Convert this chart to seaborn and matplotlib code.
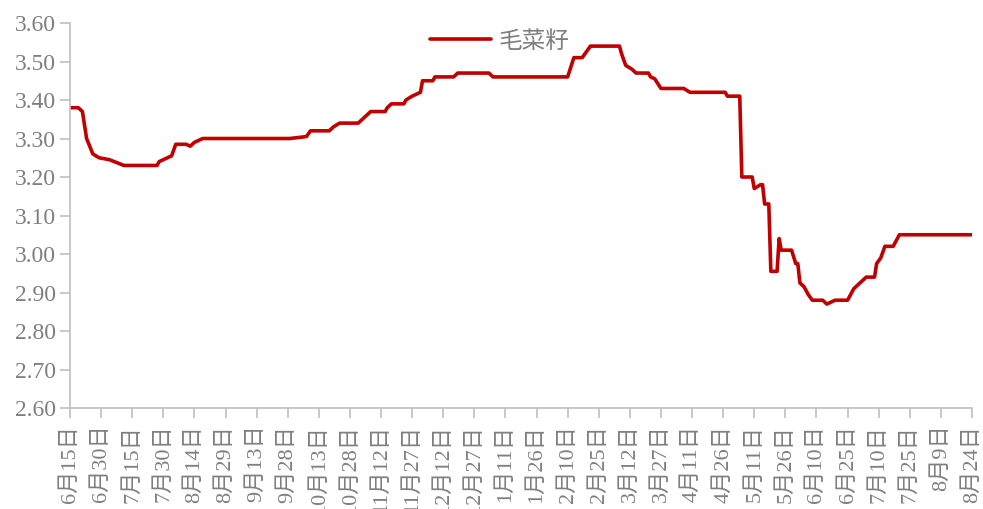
import numpy as np
import pandas as pd
import matplotlib
matplotlib.use("Agg")
import matplotlib.pyplot as plt
import matplotlib.dates as mdates
import seaborn as sns

# 毛菜籽 price (change points)
dates = [
    "2022-06-15", "2022-06-19", "2022-06-21", "2022-06-23", "2022-06-26", "2022-06-29",
    "2022-07-04", "2022-07-11", "2022-07-27", "2022-07-28", "2022-08-01", "2022-08-03",
    "2022-08-05", "2022-08-10", "2022-08-12", "2022-08-14", "2022-08-18", "2022-09-29",
    "2022-10-07", "2022-10-09", "2022-10-18", "2022-10-20", "2022-10-23", "2022-11-01",
    "2022-11-03", "2022-11-07", "2022-11-14", "2022-11-15", "2022-11-17", "2022-11-23",
    "2022-11-24", "2022-11-27", "2022-12-01", "2022-12-02", "2022-12-07", "2022-12-08",
    "2022-12-17", "2022-12-19", "2023-01-03", "2023-01-05", "2023-02-10", "2023-02-13",
    "2023-02-17", "2023-02-21", "2023-03-07", "2023-03-08", "2023-03-10", "2023-03-13",
    "2023-03-15", "2023-03-21", "2023-03-22", "2023-03-24", "2023-03-27", "2023-04-07",
    "2023-04-10", "2023-04-27", "2023-04-28", "2023-05-04", "2023-05-05", "2023-05-10",
    "2023-05-11", "2023-05-14", "2023-05-15", "2023-05-16", "2023-05-18", "2023-05-19",
    "2023-05-22", "2023-05-23", "2023-05-24", "2023-05-29", "2023-05-31", "2023-06-01",
    "2023-06-02", "2023-06-04", "2023-06-06", "2023-06-08", "2023-06-13", "2023-06-15",
    "2023-06-19", "2023-06-25", "2023-06-28", "2023-06-30", "2023-07-02", "2023-07-04",
    "2023-07-08", "2023-07-09", "2023-07-11", "2023-07-13", "2023-07-17", "2023-07-19",
    "2023-07-20", "2023-08-24",
]
prices = [
    3.38, 3.38, 3.37, 3.30, 3.26, 3.25,
    3.245, 3.23, 3.23, 3.24, 3.25, 3.255,
    3.285, 3.285, 3.28, 3.29, 3.30, 3.30,
    3.305, 3.32, 3.32, 3.33, 3.34, 3.34,
    3.35, 3.37, 3.37, 3.38, 3.39, 3.39,
    3.40, 3.41, 3.42, 3.45, 3.45, 3.46,
    3.46, 3.47, 3.47, 3.46, 3.46, 3.51,
    3.51, 3.54, 3.54, 3.52, 3.49, 3.48,
    3.47, 3.47, 3.46, 3.455, 3.43, 3.43,
    3.42, 3.42, 3.41, 3.41, 3.20, 3.20,
    3.17, 3.18, 3.18, 3.13, 3.13, 2.955,
    2.955, 3.04, 3.01, 3.01, 2.975, 2.975,
    2.925, 2.915, 2.895, 2.88, 2.88, 2.87,
    2.88, 2.88, 2.91, 2.92, 2.93, 2.94,
    2.94, 2.975, 2.99, 3.02, 3.02, 3.04,
    3.05, 3.05,
]
series_name = "毛菜籽"
y_ticks = [2.60, 2.70, 2.80, 2.90, 3.00, 3.10, 3.20, 3.30, 3.40, 3.50, 3.60]

df = pd.DataFrame({"date": pd.to_datetime(dates), "price": prices})
tick_dates = pd.date_range("2022-06-15", "2023-08-24", freq="15D")

sns.set_style("white")
plt.rcParams["font.family"] = ["Liberation Serif", "Noto Sans CJK SC", "DejaVu Sans"]

grey = "#7f7f7f"
axis_grey = "#bfbfbf"

fig = plt.figure(figsize=(9.83, 5.09), dpi=100)
ax = fig.add_axes([0.0712, 0.1984, 0.9176, 0.7564])

sns.lineplot(data=df, x="date", y="price", ax=ax, color="#c00000",
             linewidth=2.6, label=series_name)

ax.set_xlim(tick_dates[0], tick_dates[-1])
ax.set_ylim(2.6, 3.6)
ax.set_yticks(y_ticks)
ax.set_yticklabels([f"{v:.2f}" for v in y_ticks])
ax.set_xticks(tick_dates)
ax.set_xticklabels([f"{d.month}月{d.day}日" for d in tick_dates], rotation=90)
ax.set_xlabel("")
ax.set_ylabel("")

for side in ["top", "right"]:
    ax.spines[side].set_visible(False)
for side in ["left", "bottom"]:
    ax.spines[side].set_color(axis_grey)
    ax.spines[side].set_linewidth(1.2)

ax.tick_params(axis="y", direction="out", length=7, width=1.2, color=axis_grey,
               labelsize=17, labelcolor=grey, pad=3, left=True)
ax.tick_params(axis="x", direction="out", length=7, width=1.2, color=axis_grey,
               labelsize=16, labelcolor=grey, pad=5, bottom=True)

leg = ax.legend(loc="center", bbox_to_anchor=(0.476, 0.953), frameon=False,
                fontsize=17, handlelength=2.6, handletextpad=0.3)
for t in leg.get_texts():
    t.set_color(grey)
    t.set_family(["Noto Sans CJK SC", "DejaVu Sans"])

fig.savefig("out.png", dpi=100)
